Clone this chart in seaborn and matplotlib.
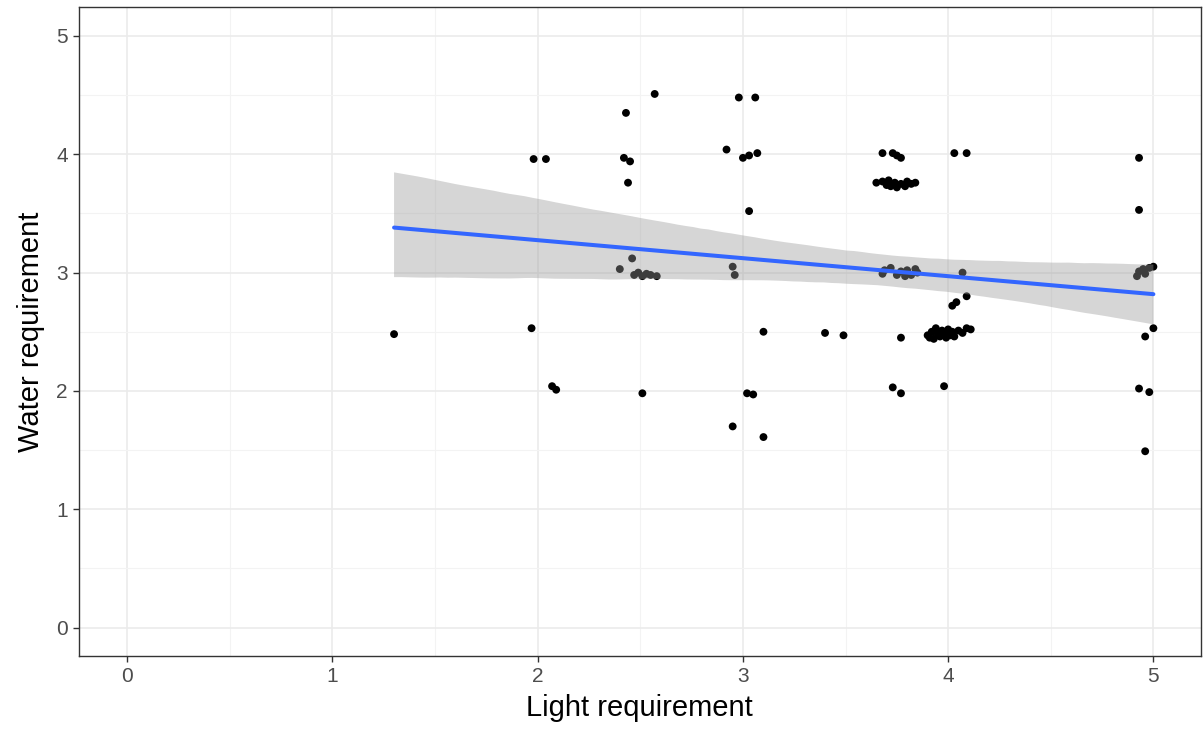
import pandas as pd
import numpy as np
import matplotlib.pyplot as plt
import seaborn as sns
from matplotlib.collections import PolyCollection

#------------------------------------------------------------------------------
# Datos (valores con jitter)
#------------------------------------------------------------------------------

light = [
    1.30, 1.98, 2.04, 1.97, 2.07, 2.09, 2.43, 2.57, 2.42, 2.45, 2.44, 2.40, 2.46,
    2.47, 2.49, 2.51, 2.53, 2.55, 2.58, 2.51,
    2.92, 2.98, 3.06, 3.00, 3.03, 3.07, 3.03, 2.95, 2.96, 3.10, 3.02, 3.05,
    2.95, 3.10, 3.40, 3.49,
    3.68, 3.73, 3.75, 3.77,
    3.65, 3.68, 3.70, 3.71, 3.72, 3.74, 3.75, 3.77, 3.79, 3.80, 3.82, 3.84,
    3.68, 3.69, 3.72, 3.75, 3.77, 3.79, 3.80, 3.82, 3.84, 3.85,
    3.77, 3.73, 3.77,
    4.03, 4.09, 4.07, 4.09, 4.02, 4.04,
    3.90, 3.91, 3.92, 3.93, 3.94, 3.95, 3.96, 3.97, 3.98, 3.99, 4.00, 4.01,
    4.02, 4.03, 4.05, 4.07, 4.09, 4.11,
    3.98,
    4.93, 4.93, 4.92, 4.93, 4.95, 4.96, 4.98, 5.00, 5.00, 4.96, 4.93, 4.98, 4.96,
]

water = [
    2.48, 3.96, 3.96, 2.53, 2.04, 2.01, 4.35, 4.51, 3.97, 3.94, 3.76, 3.03, 3.12,
    2.98, 3.00, 2.97, 2.99, 2.98, 2.97, 1.98,
    4.04, 4.48, 4.48, 3.97, 3.99, 4.01, 3.52, 3.05, 2.98, 2.50, 1.98, 1.97,
    1.70, 1.61, 2.49, 2.47,
    4.01, 4.01, 3.99, 3.97,
    3.76, 3.77, 3.74, 3.78, 3.73, 3.76, 3.72, 3.75, 3.73, 3.77, 3.75, 3.76,
    2.99, 3.02, 3.04, 2.98, 3.01, 2.97, 3.02, 2.98, 3.03, 3.00,
    2.45, 2.03, 1.98,
    4.01, 4.01, 3.00, 2.80, 2.72, 2.75,
    2.47, 2.45, 2.50, 2.44, 2.53, 2.48, 2.46, 2.51, 2.49, 2.45, 2.52, 2.47,
    2.50, 2.46, 2.51, 2.49, 2.53, 2.52,
    2.04,
    3.97, 3.53, 2.97, 3.01, 3.03, 2.99, 3.04, 3.05, 2.53, 2.46, 2.02, 1.99, 1.49,
]

df = pd.DataFrame({'Light requirement': light, 'Water requirement': water})

#------------------------------------------------------------------------------
# Estilo tipo theme_bw
#------------------------------------------------------------------------------

sns.set_theme(style='white')
plt.rcParams['font.family'] = ['Liberation Sans', 'DejaVu Sans']

fig = plt.figure(figsize=(12.03, 7.37), dpi=100)
ax = fig.add_axes([0.0657, 0.110, 0.9323, 0.8805])

# Puntos y recta de regresión con intervalo de confianza
sns.scatterplot(data=df, x='Light requirement', y='Water requirement',
                color='black', s=32, edgecolor='none', ax=ax, zorder=2)
sns.regplot(data=df, x='Light requirement', y='Water requirement', scatter=False,
            ci=95, n_boot=2000, seed=3, color='#3366FF',
            line_kws={'linewidth': 2.9, 'zorder': 4}, ax=ax)

# Banda gris encima de los puntos
for coll in ax.collections:
    if isinstance(coll, PolyCollection):
        coll.set_facecolor('#999999')
        coll.set_edgecolor('none')
        coll.set_alpha(0.4)
        coll.set_zorder(3)

ax.set_xlim(-0.235, 5.23)
ax.set_ylim(-0.24, 5.245)
ax.set_xticks(range(6))
ax.set_yticks(range(6))
ax.set_xticks(np.arange(0.5, 5.5, 1), minor=True)
ax.set_yticks(np.arange(0.5, 5.5, 1), minor=True)

ax.set_axisbelow(True)
ax.grid(which='major', color='#EBEBEB', linewidth=1.2)
ax.grid(which='minor', color='#F3F3F3', linewidth=0.8)

for s in ax.spines.values():
    s.set_color('#333333')
    s.set_linewidth(1.0)

ax.tick_params(which='major', direction='out', length=4, width=1, color='#333333',
               labelsize=15, labelcolor='#4D4D4D', pad=4,
               bottom=True, left=True)
ax.tick_params(which='minor', length=0)

ax.set_xlabel('Light requirement', fontsize=21, color='black', labelpad=6)
ax.set_ylabel('Water requirement', fontsize=21, color='black', labelpad=8)

fig.savefig('out.png', dpi=100)
